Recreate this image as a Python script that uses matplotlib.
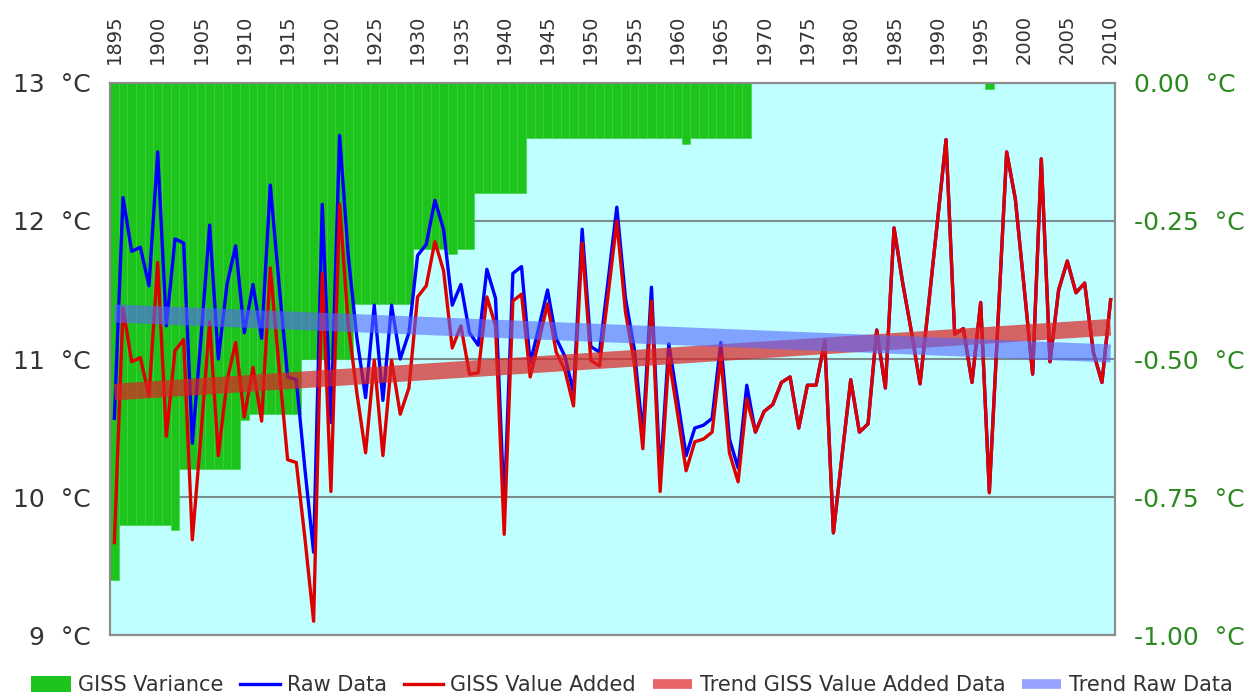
import numpy as np
import matplotlib
matplotlib.use("Agg")
import matplotlib.pyplot as plt
from matplotlib.patches import Patch
from matplotlib.lines import Line2D

plt.rcParams['font.family'] = ['DejaVu Sans']

years = list(range(1895, 2011))

# GISS adjustment per year (right axis, degC)
variance = ([-0.90] + [-0.80] * 6 + [-0.81] + [-0.70] * 7 + [-0.61] + [-0.60] * 6
            + [-0.50] * 6 + [-0.40] * 7 + [-0.30] * 4 + [-0.31] + [-0.30] * 2
            + [-0.20] * 6 + [-0.10] * 18 + [-0.11] + [-0.10] * 7
            + [0.0] * 27 + [-0.01] + [0.0] * 14)

raw_data = [10.57, 12.17, 11.78, 11.81, 11.53, 12.50, 11.24, 11.87, 11.84, 10.39,
            11.15, 11.97, 11.00, 11.54, 11.82, 11.19, 11.54, 11.15, 12.26, 11.55,
            10.87, 10.85, 10.20, 9.60, 12.12, 10.54, 12.62, 11.75, 11.15, 10.72,
            11.39, 10.70, 11.39, 11.00, 11.19, 11.75, 11.83, 12.15, 11.94, 11.39,
            11.54, 11.19, 11.10, 11.65, 11.44, 9.93, 11.62, 11.67, 10.97, 11.23,
            11.50, 11.15, 11.02, 10.76, 11.94, 11.09, 11.05, 11.57, 12.10, 11.44,
            11.08, 10.45, 11.52, 10.14, 11.11, 10.71, 10.30, 10.50, 10.52, 10.57,
            11.12, 10.42, 10.21, 10.81, 10.47, 10.62, 10.67, 10.83, 10.87, 10.50,
            10.81, 10.81, 11.13, 9.74, 10.30, 10.85, 10.47, 10.53, 11.21, 10.79,
            11.95, 11.55, 11.20, 10.82, 11.40, 11.99, 12.59, 11.18, 11.22, 10.83,
            11.41, 10.04, 11.27, 12.50, 12.16, 11.53, 10.89, 12.45, 10.98, 11.50,
            11.71, 11.48, 11.55, 11.05, 10.83, 11.43]

giss_value_added = [9.67, 11.37, 10.98, 11.01, 10.73, 11.70, 10.44, 11.06, 11.14, 9.69,
                    10.45, 11.27, 10.30, 10.84, 11.12, 10.58, 10.94, 10.55, 11.66, 10.95,
                    10.27, 10.25, 9.70, 9.10, 11.62, 10.04, 12.12, 11.25, 10.75, 10.32,
                    10.99, 10.30, 10.99, 10.60, 10.79, 11.45, 11.53, 11.85, 11.64, 11.08,
                    11.24, 10.89, 10.90, 11.45, 11.24, 9.73, 11.42, 11.47, 10.87, 11.13,
                    11.40, 11.05, 10.92, 10.66, 11.84, 10.99, 10.95, 11.47, 12.00, 11.34,
                    10.98, 10.35, 11.42, 10.04, 11.01, 10.61, 10.19, 10.40, 10.42, 10.47,
                    11.02, 10.32, 10.11, 10.71, 10.47, 10.62, 10.67, 10.83, 10.87, 10.50,
                    10.81, 10.81, 11.13, 9.74, 10.30, 10.85, 10.47, 10.53, 11.21, 10.79,
                    11.95, 11.55, 11.20, 10.82, 11.40, 11.99, 12.59, 11.18, 11.22, 10.83,
                    11.41, 10.03, 11.27, 12.50, 12.16, 11.53, 10.89, 12.45, 10.98, 11.50,
                    11.71, 11.48, 11.55, 11.05, 10.83, 11.43]

trend_years = [1895, 2010]
trend_giss = [10.76, 11.23]
trend_raw = [11.33, 11.04]

left_ticks = [9, 10, 11, 12, 13]
right_ticks = [0.0, -0.25, -0.50, -0.75, -1.00]

green = '#1cc41c'
cyan = '#bfffff'

fig = plt.figure(figsize=(12.56, 6.95), dpi=100)
ax = fig.add_axes([0.0876, 0.0863, 0.8001, 0.7943])
ax2 = ax.twinx()

# variance bars behind the temperature lines
ax.set_zorder(2)
ax2.set_zorder(1)
ax.patch.set_visible(False)
ax2.patch.set_visible(True)
ax2.patch.set_facecolor(cyan)

ax2.bar(years, variance, width=1.0, color=green, edgecolor='#3dd23d', linewidth=0.4, zorder=2)
ax2.set_ylim(-1, 0)
ax2.set_yticks(right_ticks)
ax2.set_yticklabels([f'{v:.2f}  °C' for v in right_ticks])
ax2.grid(axis='y', color='#7d8c8c', linewidth=1.5, zorder=1)
ax2.set_axisbelow(True)
ax2.tick_params(axis='y', length=0, pad=14, labelsize=18, labelcolor='#2b8a1f')

ax.plot(years, raw_data, color='#0000ff', lw=2.4, zorder=3)
ax.plot(years, giss_value_added, color='#dd0000', lw=2.4, zorder=4)
ax.plot(trend_years, trend_giss, color='#dd2222', lw=12, alpha=0.7,
        solid_capstyle='butt', zorder=5)
ax.plot(trend_years, trend_raw, color='#5566ff', lw=13, alpha=0.6,
        solid_capstyle='butt', zorder=6)

ax.set_ylim(9, 13)
ax.set_xlim(1894.5, 2010.5)
ax.set_yticks(left_ticks)
ax.set_yticklabels([f'{v}  °C' for v in left_ticks])
ax.tick_params(axis='y', length=0, pad=14, labelsize=18, labelcolor='#333333')

ax.xaxis.tick_top()
ax.set_xticks(range(1895, 2011, 5))
ax.tick_params(axis='x', length=0, pad=14, labelsize=14, labelrotation=90,
               labelcolor='#333333')

for a in (ax, ax2):
    for s in a.spines.values():
        s.set_color('#8c8c8c')
        s.set_linewidth(1.5)

handles = [Patch(facecolor=green, edgecolor='none'),
           Line2D([], [], color='#0000ff', lw=2.4),
           Line2D([], [], color='#dd0000', lw=2.4),
           Line2D([], [], color='#dd2222', lw=7, alpha=0.7, solid_capstyle='butt'),
           Line2D([], [], color='#5566ff', lw=7, alpha=0.6, solid_capstyle='butt')]
labels = ['GISS Variance', 'Raw Data', 'GISS Value Added',
          'Trend GISS Value Added Data', 'Trend Raw Data']
fig.legend(handles, labels, loc='center', bbox_to_anchor=(0.503, 0.014), ncol=5,
           frameon=False, fontsize=15, handlelength=1.9, handletextpad=0.35,
           columnspacing=0.8, handleheight=0.8, labelcolor='#333333')

fig.savefig('out.png', dpi=100)
